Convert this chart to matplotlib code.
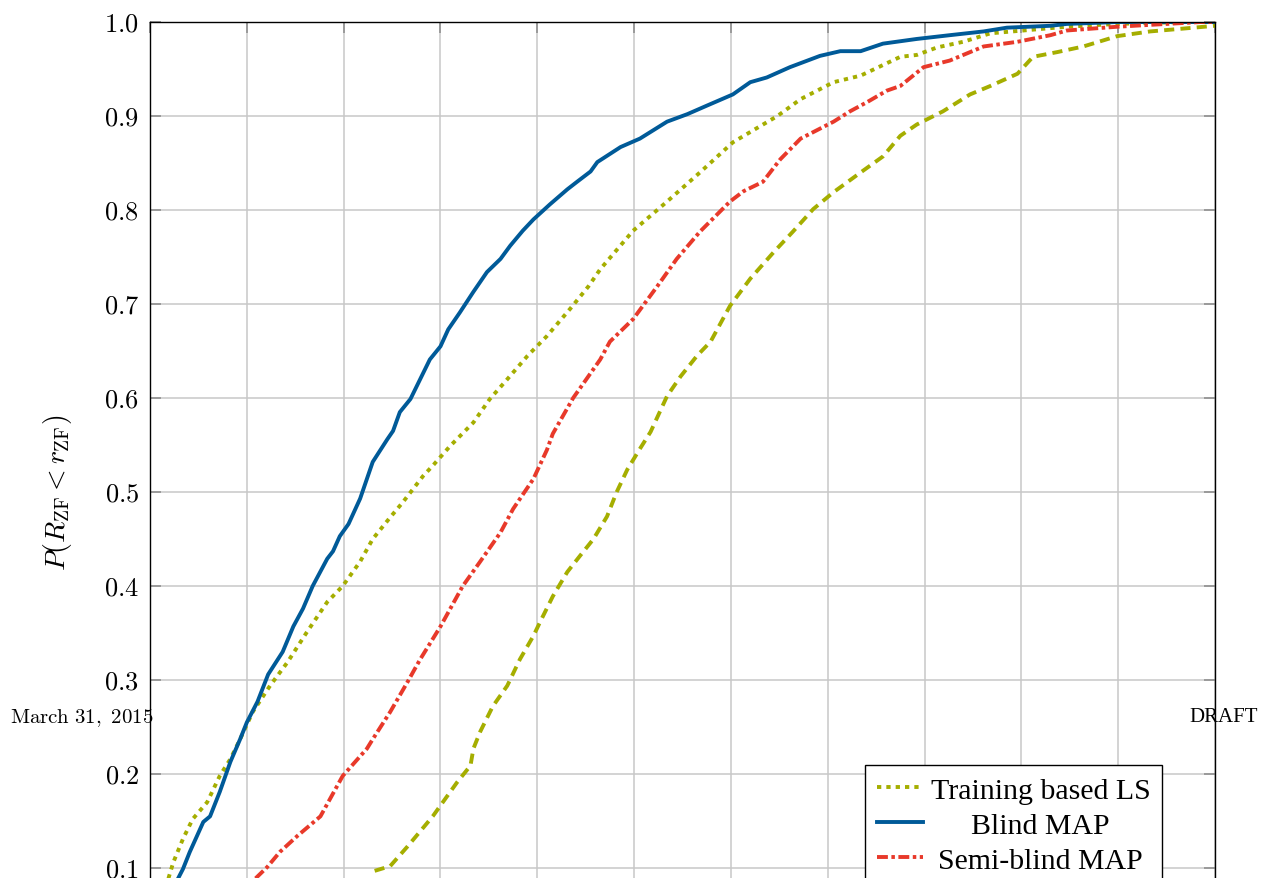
import matplotlib
matplotlib.use("Agg")
import matplotlib.pyplot as plt
from matplotlib.ticker import FuncFormatter, MultipleLocator

plt.rcParams['font.family'] = ['Liberation Serif', 'DejaVu Serif']
plt.rcParams['mathtext.fontset'] = 'cm'
plt.rcParams['lines.dash_capstyle'] = 'butt'

# CDF curves, x in grid units (x tick labels are cut off in the reference)
blind_x = [0.29, 0.34, 0.41, 0.55, 0.62, 0.72, 0.83, 0.93, 1.00, 1.11, 1.22, 1.37, 1.48, 1.58,
           1.68, 1.83, 1.89, 1.96, 2.05, 2.17, 2.30, 2.45, 2.51, 2.58, 2.69, 2.79, 2.89, 3.00,
           3.08, 3.20, 3.34, 3.48, 3.62, 3.72, 3.85, 3.96, 4.13, 4.31, 4.41, 4.55, 4.62, 4.86,
           5.06, 5.34, 5.55, 5.75, 6.02, 6.20, 6.37, 6.61, 6.92, 7.13, 7.34, 7.57, 7.92, 8.26,
           8.61, 8.85, 9.30, 9.47, 9.99, 11.0]
blind_y = [0.089, 0.099, 0.117, 0.149, 0.155, 0.181, 0.213, 0.237, 0.255, 0.277, 0.306, 0.330,
           0.357, 0.376, 0.400, 0.429, 0.437, 0.453, 0.466, 0.493, 0.532, 0.556, 0.565, 0.585,
           0.599, 0.620, 0.641, 0.655, 0.673, 0.691, 0.713, 0.734, 0.748, 0.762, 0.778, 0.790,
           0.806, 0.822, 0.830, 0.841, 0.851, 0.867, 0.876, 0.894, 0.902, 0.911, 0.923, 0.936,
           0.941, 0.952, 0.964, 0.969, 0.969, 0.977, 0.982, 0.986, 0.990, 0.994, 0.996, 0.998,
           1.0, 1.0]

ls_x = [0.19, 0.24, 0.34, 0.44, 0.59, 0.72, 0.83, 0.93, 1.06, 1.24, 1.42, 1.62, 1.83, 1.99,
        2.17, 2.30, 2.48, 2.61, 2.82, 2.92, 3.10, 3.34, 3.51, 3.69, 3.90, 4.10, 4.34, 4.53,
        4.65, 4.99, 5.34, 5.68, 6.02, 6.20, 6.48, 6.72, 7.06, 7.34, 7.75, 7.92, 8.13, 8.40,
        8.68, 9.02, 9.47, 9.99, 10.67, 11.0]
ls_y = [0.089, 0.106, 0.131, 0.152, 0.170, 0.198, 0.216, 0.237, 0.266, 0.294, 0.319, 0.351,
        0.383, 0.400, 0.426, 0.450, 0.473, 0.489, 0.517, 0.528, 0.549, 0.574, 0.599, 0.620,
        0.645, 0.666, 0.695, 0.719, 0.737, 0.778, 0.809, 0.840, 0.872, 0.883, 0.900, 0.918,
        0.936, 0.943, 0.963, 0.965, 0.973, 0.979, 0.988, 0.991, 0.995, 0.998, 1.0, 1.0]

semi_x = [1.09, 1.21, 1.34, 1.52, 1.76, 1.99, 2.24, 2.30, 2.48, 2.66, 2.79, 3.00, 3.23, 3.41,
          3.62, 3.75, 3.96, 4.10, 4.16, 4.37, 4.65, 4.75, 4.99, 5.24, 5.44, 5.68, 5.99, 6.13,
          6.33, 6.51, 6.72, 7.06, 7.23, 7.41, 7.61, 7.75, 7.99, 8.26, 8.61, 8.96, 9.30, 9.47,
          9.99, 10.33, 10.85, 11.0]
semi_y = [0.089, 0.101, 0.117, 0.134, 0.155, 0.198, 0.227, 0.237, 0.266, 0.298, 0.322, 0.357,
          0.400, 0.426, 0.457, 0.482, 0.514, 0.545, 0.562, 0.600, 0.641, 0.660, 0.684, 0.719,
          0.748, 0.777, 0.809, 0.820, 0.830, 0.854, 0.876, 0.894, 0.905, 0.915, 0.927, 0.932,
          0.952, 0.959, 0.974, 0.979, 0.986, 0.991, 0.995, 0.997, 1.0, 1.0]

dash_x = [2.32, 2.48, 2.66, 2.92, 3.17, 3.31, 3.34, 3.41, 3.54, 3.69, 3.82, 3.96, 4.03, 4.16,
          4.31, 4.44, 4.58, 4.72, 4.82, 4.93, 5.06, 5.17, 5.34, 5.48, 5.65, 5.79, 5.99, 6.20,
          6.44, 6.64, 6.85, 7.06, 7.34, 7.57, 7.75, 7.92, 8.19, 8.47, 8.68, 8.96, 9.12, 9.37,
          9.64, 9.99, 10.33, 10.67, 11.0]
dash_y = [0.097, 0.102, 0.123, 0.155, 0.191, 0.209, 0.227, 0.245, 0.272, 0.294, 0.322, 0.347,
          0.362, 0.389, 0.415, 0.432, 0.450, 0.474, 0.500, 0.524, 0.546, 0.564, 0.602, 0.623,
          0.645, 0.660, 0.698, 0.727, 0.755, 0.777, 0.801, 0.819, 0.840, 0.857, 0.879, 0.891,
          0.905, 0.923, 0.932, 0.945, 0.963, 0.968, 0.974, 0.985, 0.990, 0.993, 0.996]

labels = ['Training based LS', 'Blind MAP', 'Semi-blind MAP', 'Perfect CSI']
green = '#a5ae00'
blue = '#005a98'
red = '#e8392a'

fig = plt.figure(figsize=(12.63, 8.79), dpi=100)
# axes bottom (y=0 and the x tick labels) lies below the visible page
ax = fig.add_axes([0.1188, -0.0956, 0.8432, 1.0694])

lw = 2.8
ax.plot(ls_x, ls_y, color=green, lw=lw, linestyle=(0, (1.1, 1.3)), label=labels[0])
ax.plot(blind_x, blind_y, color=blue, lw=lw, linestyle='-', label=labels[1])
ax.plot(semi_x, semi_y, color=red, lw=lw, linestyle=(0, (2.8, 0.9, 0.9, 0.9)), label=labels[2])
ax.plot(dash_x, dash_y, color=green, lw=lw, linestyle=(0, (2.6, 1.6)), label=labels[3])

ax.set_xlim(0, 11)
ax.set_ylim(0, 1)
ax.xaxis.set_major_locator(MultipleLocator(1))
ax.yaxis.set_major_locator(MultipleLocator(0.1))
ax.yaxis.set_major_formatter(FuncFormatter(lambda v, p: '$%.1f$' % v))
ax.grid(True, color='#c8c8c8', linewidth=1.1)
ax.tick_params(direction='in', length=8, width=1.2, color='#909090',
               top=True, right=True, labelsize=19, pad=8)
ax.tick_params(axis='x', labelbottom=False)
for s in ax.spines.values():
    s.set_linewidth(1.0)

ax.set_ylabel(r'$P(R_{\mathrm{ZF}} < r_{\mathrm{ZF}})$', fontsize=20, labelpad=21)

leg = ax.legend(loc='upper left', bbox_to_anchor=(865 / 1263, 1 - 766 / 879),
                bbox_transform=fig.transFigure, borderaxespad=0, fontsize=21.5,
                fancybox=False, framealpha=1, edgecolor='black', handlelength=1.55,
                handletextpad=0.25, labelspacing=0.27, borderpad=0.4)
leg.get_frame().set_linewidth(1.0)

# centre the legend labels like pgfplots does (offsets are in pixels)
fig.canvas.draw()
texts = leg.get_texts()
renderer = fig.canvas.get_renderer()
widths = [t.get_window_extent(renderer).width for t in texts]
wmax = max(widths)
for t, w in zip(texts, widths):
    t.set_position(((wmax - w) / 2, 0))

fig.text(10 / 1263, 1 - 718 / 879, r'$\mathrm{March\ 31,\ 2015}$', fontsize=15,
         ha='left', va='center')
fig.text(1258 / 1263, 1 - 718 / 879, 'DRAFT', fontsize=15, ha='right', va='center')

fig.savefig('out.png', dpi=100)
